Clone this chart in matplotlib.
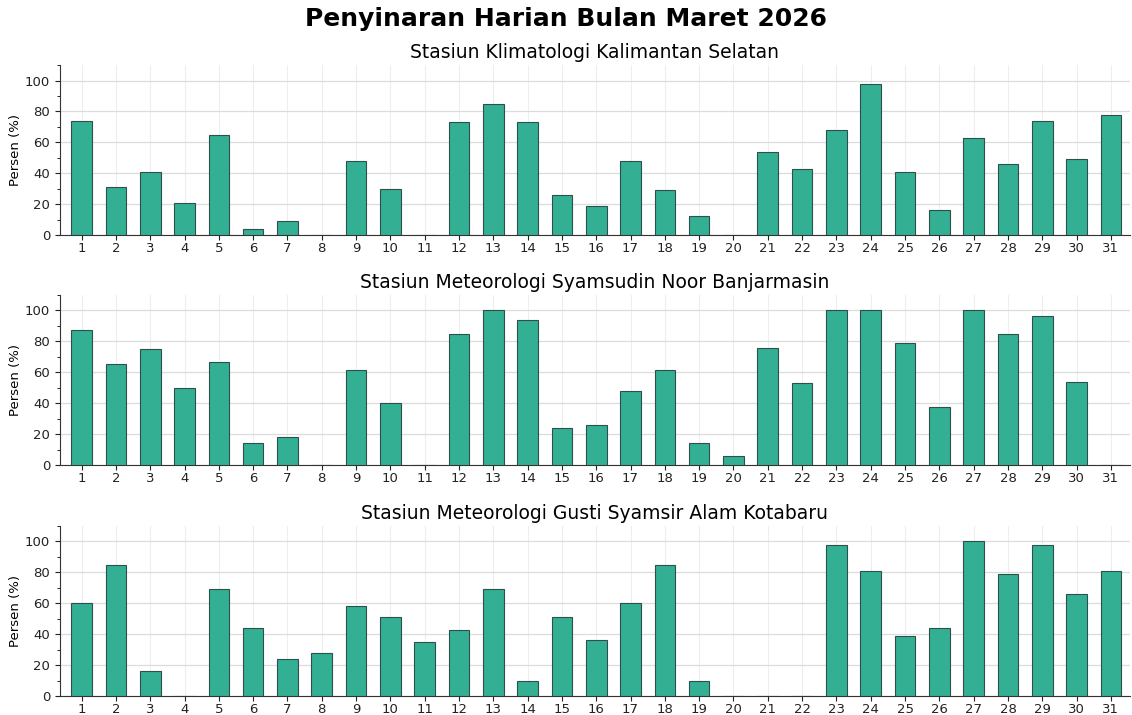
import numpy as np
import matplotlib.pyplot as plt
from matplotlib.ticker import MultipleLocator

days = list(range(1, 32))

stations = [
    "Stasiun Klimatologi Kalimantan Selatan",
    "Stasiun Meteorologi Syamsudin Noor Banjarmasin",
    "Stasiun Meteorologi Gusti Syamsir Alam Kotabaru",
]

klimatologi = [74, 31, 41, 21, 65, 4, 9, 0, 48, 30, 0, 73, 85, 73, 26,
               19, 48, 29, 12.5, 0, 54, 42.5, 68, 98, 41, 16, 62.5, 46, 74, 49, 78]
syamsudin = [87.5, 65.5, 75, 50, 66.5, 14, 18, 0, 61.5, 40, 0, 85, 100, 94, 24,
             26, 48, 61.5, 14, 6, 76, 53, 100, 100, 79, 37.5, 100, 85, 96.5, 54, 0]
kotabaru = [60, 85, 16, 0, 69, 44, 24, 27.5, 58, 51, 35, 42.5, 69, 10, 51,
            36.5, 60, 85, 10, 0, 0, 0, 97.5, 81, 39, 44, 100, 79, 97.5, 66, 81]

series = [klimatologi, syamsudin, kotabaru]

fig = plt.figure(figsize=(11.32, 7.15), dpi=100)
fig.suptitle("Penyinaran Harian Bulan Maret 2026", fontsize=18, fontweight='bold', y=0.99)

bottoms = [0.6713, 0.3497, 0.0266]
height = 0.2377

for i, (name, vals) in enumerate(zip(stations, series)):
    ax = fig.add_axes([0.053, bottoms[i], 0.945, height])
    ax.bar(days, vals, width=0.6, color='#33b094', edgecolor='#2f4f4a', linewidth=0.8, zorder=3)
    ax.set_title(name, fontsize=13.5, pad=5)
    ax.set_ylabel("Persen (%)", fontsize=9.5, labelpad=2)
    ax.set_xlim(0.37, 31.55)
    ax.set_ylim(0, 110)
    ax.set_xticks(days)
    ax.set_yticks([0, 20, 40, 60, 80, 100])
    ax.yaxis.set_minor_locator(MultipleLocator(10))
    ax.tick_params(labelsize=9.5, length=3.5, colors='#222222')
    ax.tick_params(axis='x', pad=1.5)
    ax.tick_params(which='minor', length=2.5)
    ax.grid(axis='y', color='#dcdcdc', linewidth=0.9, zorder=0)
    ax.grid(axis='x', color='#eeeeee', linewidth=0.8, zorder=0)
    for s in ['top', 'right']:
        ax.spines[s].set_visible(False)
    for s in ['left', 'bottom']:
        ax.spines[s].set_color('#333333')

plt.savefig("out.png", dpi=100)
